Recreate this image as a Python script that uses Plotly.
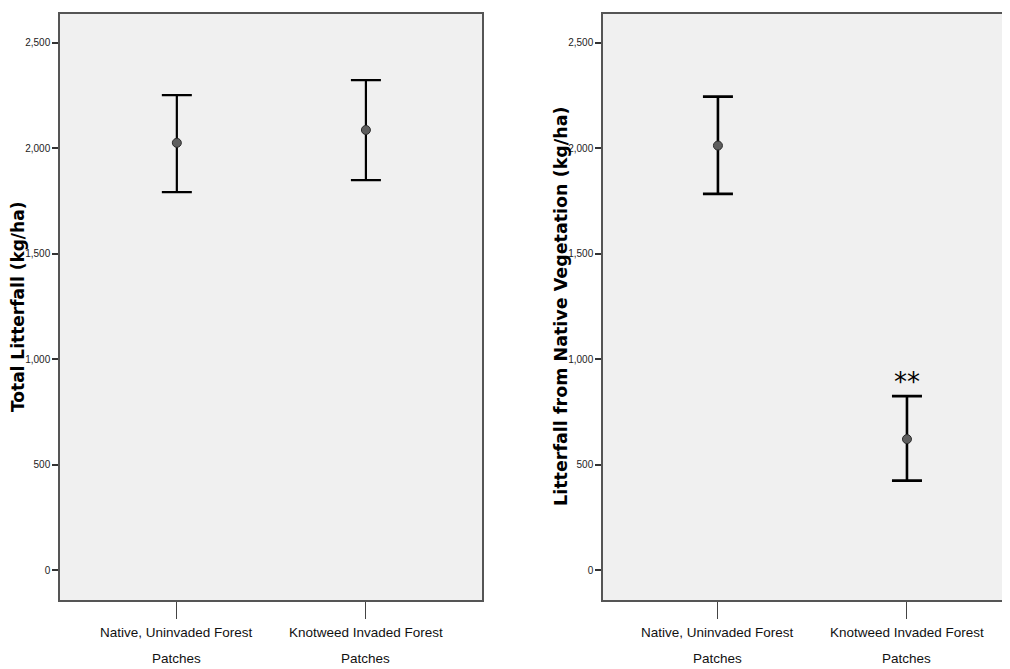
import plotly.graph_objects as go

categories = ["Native, Uninvaded Forest<br>Patches", "Knotweed Invaded Forest<br>Patches"]

# Panel 1: Total litterfall (kg/ha)
total_mean = [2026, 2087]
total_upper = [2252, 2323]
total_lower = [1792, 1849]

# Panel 2: Litterfall from native vegetation (kg/ha)
native_mean = [2013, 621]
native_upper = [2245, 825]
native_lower = [1784, 424]

y_ticks = [0, 500, 1000, 1500, 2000, 2500]
y_title_left = "Total Litterfall (kg/ha)"
y_title_right = "Litterfall from Native Vegetation (kg/ha)"
signif_label = "**"
signif_y = 890

OFF = 8  # page body margin
W, H = 1010 - OFF, 669 - OFF

def px(x):
    return (x - OFF) / W

def py(y):
    return 1 - (y - OFF) / H

label_font = "Liberation Sans, Arial, sans-serif"

fig = go.Figure()

def add_panel(means, upper, lower, xa, ya, bar_w):
    xs = [0, 1]
    fig.add_trace(go.Scatter(
        x=xs, y=means, mode="markers",
        xaxis=xa, yaxis=ya,
        marker=dict(symbol="circle", size=9, color="#5e5e5e",
                    line=dict(color="#2a2a2a", width=1)),
        error_y=dict(type="data", symmetric=False,
                     array=[u - m for u, m in zip(upper, means)],
                     arrayminus=[m - l for m, l in zip(means, lower)],
                     color="black", thickness=bar_w, width=15),
        showlegend=False, hoverinfo="skip",
    ))

add_panel(total_mean, total_upper, total_lower, "x", "y", 2.2)
add_panel(native_mean, native_upper, native_lower, "x2", "y2", 2.6)

ydom = [py(600), py(14)]
xaxis_common = dict(
    tickmode="array", tickvals=[0, 1], ticktext=["", ""],
    ticks="outside", ticklen=17, tickwidth=1.2, tickcolor="#444",
    showline=True, linecolor="#555", linewidth=1.5,
    showgrid=False, zeroline=False, automargin=False,
)
yaxis_common = dict(
    range=[-142, 2637], tickmode="array", tickvals=y_ticks,
    tickformat=",", ticks="outside", ticklen=6, tickwidth=1.5, tickcolor="#333",
    showline=True, linecolor="#555", linewidth=1.5,
    showgrid=False, zeroline=False, automargin=False,
    tickfont=dict(family=label_font, size=10, color="#222"),
)

fig.update_layout(
    width=W, height=H,
    margin=dict(l=0, r=0, t=0, b=0),
    paper_bgcolor="white", plot_bgcolor="#f0f0f0",
    xaxis=dict(domain=[px(60), px(482)], range=[-0.618, 1.614], mirror=True, **xaxis_common),
    yaxis=dict(domain=ydom, mirror=True, **yaxis_common),
    xaxis2=dict(domain=[px(603), 1.0], range=[-0.608, 1.545], mirror=True, anchor="y2", **xaxis_common),
    yaxis2=dict(domain=ydom, mirror=False, anchor="x2", **yaxis_common),
)

# category labels (two lines each, SPSS-like spacing)
for xref in ["x", "x2"]:
    for i, cat in enumerate(categories):
        for j, line in enumerate(cat.split("<br>")):
            fig.add_annotation(x=i, y=py(632 + 26 * j), xref=xref, yref="paper",
                               text=line, showarrow=False,
                               font=dict(family=label_font, size=13.5, color="#111"),
                               xanchor="center", yanchor="middle")

fig.add_annotation(x=px(18), y=(ydom[0] + ydom[1]) / 2, xref="paper", yref="paper",
                   text="<b>" + y_title_left + "</b>", textangle=-90, showarrow=False,
                   font=dict(family="DejaVu Sans, Verdana, sans-serif", size=17, color="black"),
                   xanchor="center", yanchor="middle")
fig.add_annotation(x=px(561), y=(ydom[0] + ydom[1]) / 2, xref="paper", yref="paper",
                   text="<b>" + y_title_right + "</b>", textangle=-90, showarrow=False,
                   font=dict(family="DejaVu Sans, Verdana, sans-serif", size=17.5, color="black"),
                   xanchor="center", yanchor="middle")

fig.add_annotation(x=1, y=signif_y, xref="x2", yref="y2", text=signif_label,
                   showarrow=False, font=dict(family="DejaVu Sans, sans-serif", size=26, color="black"),
                   yanchor="middle")

fig.write_html("out.html")
